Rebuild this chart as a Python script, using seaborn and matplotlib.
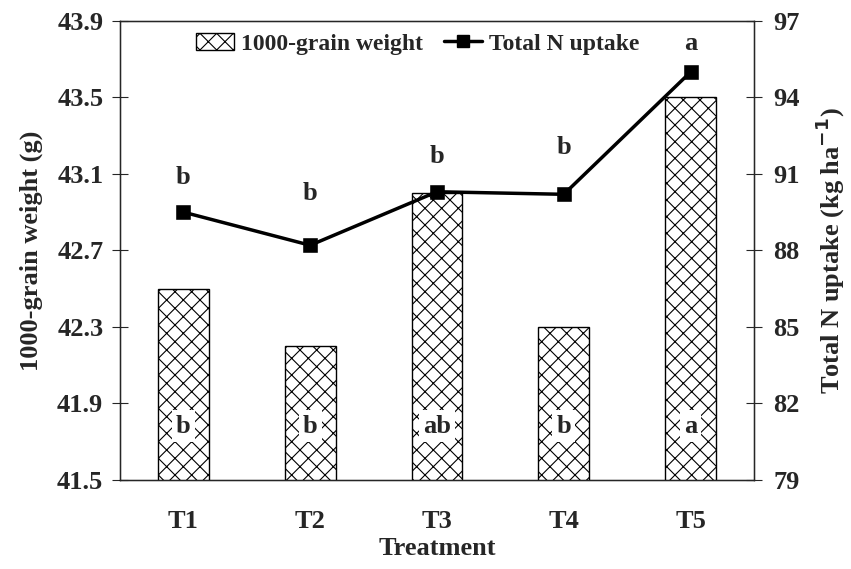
import matplotlib
matplotlib.use("Agg")
import matplotlib.pyplot as plt
import seaborn as sns
import pandas as pd
from matplotlib.patches import Patch
from matplotlib.lines import Line2D

# data
treatments = ["T1", "T2", "T3", "T4", "T5"]
grain_weight = [42.50, 42.20, 43.00, 42.30, 43.50]
n_uptake = [89.5, 88.2, 90.3, 90.2, 95.0]
weight_letters = ["b", "b", "ab", "b", "a"]
uptake_letters = ["b", "b", "b", "b", "a"]
uptake_letter_y = [90.85, 90.25, 91.7, 92.05, 96.1]
weight_letter_y = 41.78

left_ticks = [41.5, 41.9, 42.3, 42.7, 43.1, 43.5, 43.9]
right_ticks = [79, 82, 85, 88, 91, 94, 97]

df = pd.DataFrame({"Treatment": treatments,
                   "Weight": grain_weight,
                   "Uptake": n_uptake})

sns.set_style("white")
plt.rcParams["font.family"] = ["Liberation Serif", "DejaVu Serif"]
plt.rcParams["font.weight"] = "bold"
plt.rcParams["hatch.linewidth"] = 0.8
fs = 19

fig, ax = plt.subplots(figsize=(8.51, 5.69), dpi=100)
fig.subplots_adjust(left=0.141, right=0.886, top=0.963, bottom=0.157)

# bars: 1000-grain weight
sns.barplot(data=df, x="Treatment", y="Weight", ax=ax, color="white",
            width=0.4, edgecolor="black", linewidth=1.0)
for bar in ax.patches:
    bar.set_hatch("xx")
    bar.set_facecolor("white")
    bar.set_edgecolor("black")

ax.set_ylim(41.5, 43.9)
ax.set_yticks(left_ticks)
ax.set_yticklabels([f"{t:.1f}" for t in left_ticks], fontsize=fs, fontweight="bold")
ax.set_xlim(-0.5, 4.5)
ax.set_xticks(range(len(treatments)))
ax.set_xticklabels(treatments, fontsize=fs, fontweight="bold")
ax.set_xticks([i - 0.5 for i in range(len(treatments) + 1)], minor=True)
ax.tick_params(axis="x", which="major", length=0, pad=22)
ax.tick_params(axis="x", which="minor", direction="inout", length=12, width=0.8)
ax.tick_params(axis="y", direction="inout", length=12, width=0.8, pad=6)
ax.set_xlabel("Treatment", fontsize=fs, fontweight="bold", labelpad=3)
ax.set_ylabel("1000-grain weight (g)", fontsize=fs, fontweight="bold", labelpad=10)
for sp in ax.spines.values():
    sp.set_linewidth(1.0)
    sp.set_color("black")

for i, lab in enumerate(weight_letters):
    ax.text(i, weight_letter_y, lab, ha="center", va="center", fontsize=fs,
            fontweight="bold",
            bbox=dict(facecolor="white", edgecolor="none", pad=3))

# line: total N uptake
ax2 = ax.twinx()
sns.pointplot(data=df, x="Treatment", y="Uptake", ax=ax2, color="black",
              markers="s", markersize=9, linewidth=2.5)
ax2.set_xlim(-0.5, 4.5)
ax2.set_ylim(79, 97)
ax2.set_yticks(right_ticks)
ax2.set_yticklabels([str(t) for t in right_ticks], fontsize=fs, fontweight="bold")
ax2.tick_params(axis="y", direction="inout", length=12, width=0.8, pad=8)
ax2.set_ylabel("Total N uptake (kg ha$^{\\mathbf{-1}}$)", fontsize=fs,
               fontweight="bold", labelpad=10)
ax2.set_xlabel("")
for i, lab in enumerate(uptake_letters):
    ax2.text(i, uptake_letter_y[i], lab, ha="center", va="center",
             fontsize=fs, fontweight="bold")

handles = [Patch(facecolor="white", edgecolor="black", hatch="xx",
                 label="1000-grain weight"),
           Line2D([0], [0], color="black", marker="s", markersize=8,
                  linewidth=2.5, label="Total N uptake")]
ax2.legend(handles=handles, loc="upper center", bbox_to_anchor=(0.47, 1.02),
           ncol=2, frameon=False, handlelength=1.6,
           handletextpad=0.3, columnspacing=0.9,
           prop={"weight": "bold", "size": 17})

fig.savefig("out.png", dpi=100)
